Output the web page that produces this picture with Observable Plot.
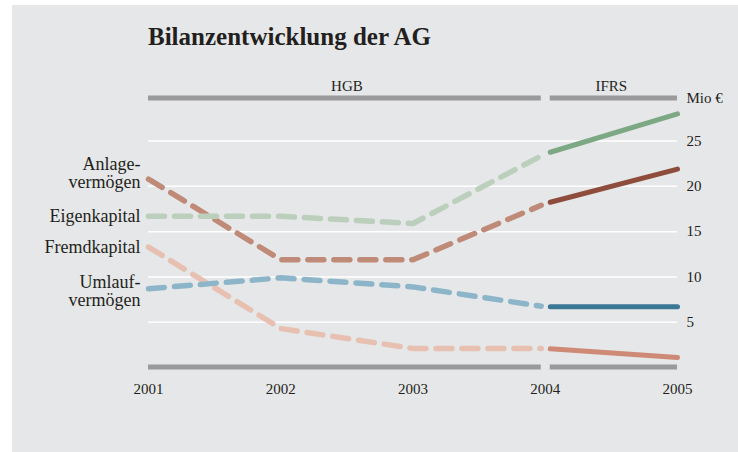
<!DOCTYPE html>
<html><head><meta charset="utf-8">
<script src="https://cdn.jsdelivr.net/npm/d3@7"></script>
<script src="https://cdn.jsdelivr.net/npm/@observablehq/plot@0.6"></script>
<style>
html,body{margin:0;padding:0;background:#fff;}
#panel{position:absolute;left:12px;top:5px;width:726px;height:447px;background:#e6e7e8;font-family:"Liberation Serif","Times New Roman",serif;color:#231f20;overflow:hidden;}
#title{position:absolute;left:136px;top:17px;font-size:25px;font-weight:bold;line-height:30px;margin:0;white-space:nowrap;}
#chart{position:absolute;left:0;top:55px;}
</style></head><body>
<div id="panel"><div id="title">Bilanzentwicklung der AG</div><div id="chart"></div></div>
<script>
const years = [2001, 2002, 2003, 2004, 2005];
const seriesNames = ["Anlagevermögen", "Eigenkapital", "Fremdkapital", "Umlaufvermögen"];
const seriesLabels = ["Anlage-\nvermögen", "Eigenkapital", "Fremdkapital", "Umlauf-\nvermögen"];
const anlage = [20.8, 11.9, 11.9, 18.1, 21.9];
const eigen = [16.7, 16.7, 15.9, 23.6, 28.0];
const fremd = [13.3, 4.3, 2.1, 2.1, 1.1];
const umlauf = [8.7, 9.9, 8.9, 6.7, 6.7];
const periods = ["HGB", "IFRS"];
const periodStart = [2001, 2004];
const periodEnd = [2004, 2005];
const yTicks = [5, 10, 15, 20, 25];
const yUnit = "Mio €";
const yMax = 29.7;

const seriesValues = [anlage, eigen, fremd, umlauf];
const hgbColors = ["#c08a78", "#bccfbc", "#e7c0b1", "#8db5c9"];
const ifrsColors = ["#8e4c3c", "#7da884", "#cf8a77", "#3a7896"];
const labelDy = [-6, 0, 0, 3];
const barColor = "#9a9a9c";
const ink = "#231f20";
const gapBefore = 4, gapAfter = 5;

const marks = [];
marks.push(Plot.ruleY(yTicks, {stroke: "#ffffff", strokeWidth: 1.5}));
seriesNames.forEach((name, i) => {
  const rows = years.map((y, j) => ({series: name, year: y, value: seriesValues[i][j]}));
  const hgbRows = rows.filter(d => d.year >= periodStart[0] && d.year <= periodEnd[0]);
  const ifrsRows = rows.filter(d => d.year >= periodStart[1] && d.year <= periodEnd[1]);
  marks.push(Plot.line(hgbRows, {x: "year", y: "value", stroke: hgbColors[i], strokeWidth: 5.5, strokeDasharray: "16,10", strokeLinejoin: "round"}));
  marks.push(Plot.line(ifrsRows, {x: "year", y: "value", stroke: ifrsColors[i], strokeWidth: 5}));
});
periods.forEach((p, i) => {
  const row = [{label: p, start: periodStart[i], end: periodEnd[i]}];
  const opts = {x1: "start", x2: "end", fill: barColor, insetTop: -2.5, insetBottom: -2.5,
    insetLeft: i > 0 ? gapAfter : 0, insetRight: i < periods.length - 1 ? gapBefore : 0};
  marks.push(Plot.rect(row, {...opts, y1: () => yMax, y2: () => yMax}));
  marks.push(Plot.rect(row, {...opts, y1: () => 0, y2: () => 0}));
  marks.push(Plot.text(row, {x: d => (d.start + d.end) / 2, y: () => yMax, text: "label", dy: -12, fontSize: 15, fill: ink}));
});
marks.push(Plot.text([yUnit], {x: () => years[years.length - 1], y: () => yMax, text: d => d, dx: 9, textAnchor: "start", fontSize: 15, fill: ink}));
seriesNames.forEach((n, i) => {
  marks.push(Plot.text([{label: seriesLabels[i], value: seriesValues[i][0]}],
    {x: () => years[0], y: "value", text: "label", dx: -8, dy: labelDy[i], textAnchor: "end", lineAnchor: "middle", lineHeight: 1.0, fontSize: 18, fill: ink}));
});
marks.push(Plot.axisX(years, {tickSize: 0, tickPadding: 16, tickFormat: d => String(d), fontSize: 15, fill: ink, label: null}));
marks.push(Plot.axisY(yTicks, {anchor: "right", tickSize: 0, tickPadding: 9, fontSize: 15, fill: ink, label: null}));

const chart = Plot.plot({
  width: 726,
  height: 347,
  marginLeft: 136,
  marginRight: 61,
  marginTop: 38,
  marginBottom: 40,
  style: {fontFamily: "'Liberation Serif', 'Times New Roman', serif", fontSize: "15px", color: ink, background: "transparent", overflow: "visible"},
  x: {domain: [years[0], years[years.length - 1]]},
  y: {domain: [0, yMax]},
  marks
});
document.getElementById("chart").appendChild(chart);

// open a small gap in the lines where the accounting standard changes
function parsePts(d) {
  const nums = (d.match(/-?\d*\.?\d+(?:e-?\d+)?/gi) || []).map(Number);
  const pts = [];
  for (let k = 0; k + 1 < nums.length; k += 2) pts.push([nums[k], nums[k + 1]]);
  return pts;
}
function shift(p, q, dist) {
  const dx = q[0] - p[0];
  if (!dx) return p;
  const t = dist / Math.abs(dx);
  return [p[0] + (q[0] - p[0]) * t, p[1] + (q[1] - p[1]) * t];
}
const toD = pts => "M" + pts.map(p => p[0].toFixed(2) + "," + p[1].toFixed(2)).join("L");
chart.querySelectorAll('g[aria-label="line"]').forEach(g => {
  const dashed = !!g.getAttribute("stroke-dasharray");
  g.querySelectorAll("path").forEach(path => {
    const pts = parsePts(path.getAttribute("d") || "");
    if (pts.length < 2 || pts.some(p => !Number.isFinite(p[0]) || !Number.isFinite(p[1]))) return;
    if (dashed) {
      const n = pts.length - 1;
      pts[n] = shift(pts[n], pts[n - 1], gapBefore);
    } else {
      pts[0] = shift(pts[0], pts[1], gapAfter);
    }
    path.setAttribute("d", toD(pts));
  });
});
</script>
</body></html>
